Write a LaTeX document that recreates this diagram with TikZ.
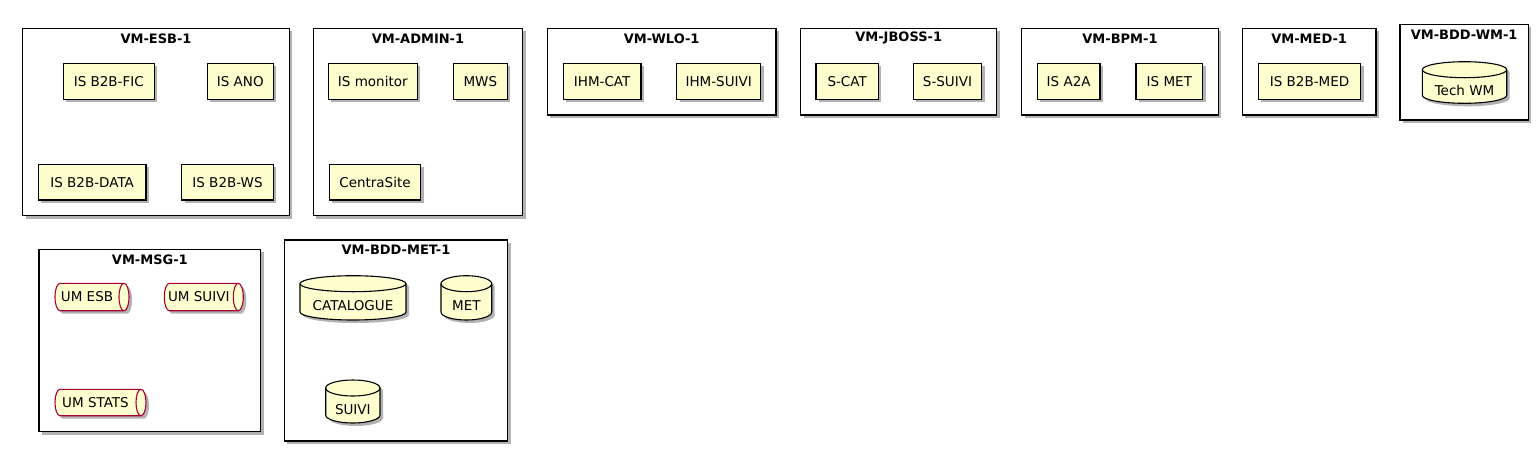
\documentclass[tikz,border=0pt]{standalone}
\usepackage{fontspec}
\setmainfont{DejaVu Sans}
\usetikzlibrary{shadows}
\definecolor{umlfill}{HTML}{FEFECE}
\definecolor{umlred}{HTML}{A80036}
\tikzset{
  shad/.style={drop shadow={shadow xshift=3pt, shadow yshift=-3pt, opacity=0.3, fill=black}},
  frame/.style={draw=black, line width=1.2pt, fill=white, shad, inner sep=0pt},
  frametitle/.style={font=\fontsize{13}{15}\selectfont\bfseries, inner sep=0pt},
  comp/.style={draw=black, line width=1.1pt, fill=umlfill, shad, inner sep=0pt,
    font=\fontsize{13.5}{16}\selectfont},
  dbshape/.style={draw=black, line width=1.1pt, fill=umlfill, shad},
  dbline/.style={draw=black, line width=1.1pt},
  qshape/.style={draw=umlred, line width=1.1pt, fill=umlfill, shad},
  qline/.style={draw=umlred, line width=1.1pt},
  lbl/.style={inner sep=0pt, font=\fontsize{13.5}{16}\selectfont}
}
% frame: name, l, t, r, b, title
\newcommand\uframe[6]{%
  \node[frame, minimum width={#4-#2}, minimum height={#5-#3}] (#1) at ({(#2+#4)/2},{(#3+#5)/2}) {};
  \node[frametitle] (#1-title) at ({(#2+#4)/2},{#3+10}) {#6};}
% component box
\newcommand\ubox[6]{%
  \node[comp, minimum width={#4-#2}, minimum height={#5-#3}] (#1) at ({(#2+#4)/2},{(#3+#5)/2}) {#6};}
% database
\newcommand\udb[6]{%
  \path[dbshape] (#2,#3+8) -- (#2,#5-8)
     arc[start angle=180, end angle=0, x radius={(#4-#2)/2}, y radius=8]
     -- (#4,#3+8)
     arc[start angle=0, end angle=-180, x radius={(#4-#2)/2}, y radius=8] -- cycle;
  \path[dbline] (#2,#3+8) arc[start angle=180, end angle=0, x radius={(#4-#2)/2}, y radius=8];
  \node[lbl] (#1) at ({(#2+#4)/2},{(#3+16+#5)/2}) {#6};}
% queue
\newcommand\uqueue[6]{%
  \path[qshape] (#2+5,#3) -- (#4-5,#3)
     arc[start angle=-90, end angle=90, x radius=5, y radius={(#5-#3)/2}]
     -- (#2+5,#5)
     arc[start angle=90, end angle=270, x radius=5, y radius={(#5-#3)/2}] -- cycle;
  \path[qline] (#4-5,#3) arc[start angle=-90, end angle=-270, x radius=5, y radius={(#5-#3)/2}];
  \node[lbl] (#1) at ({(#2+#4-10)/2},{(#3+#5)/2}) {#6};}
\begin{document}
\begin{tikzpicture}[x=1pt, y=-1pt]
\useasboundingbox (0,0) rectangle (1538,451);

% Row 1
\uframe{esb}{22.7}{28.3}{289.3}{215.5}{VM-ESB-1}
\ubox{fic}{63.3}{63.3}{154.3}{99.3}{IS B2B-FIC}
\ubox{ano}{207.3}{63.3}{273.3}{99.3}{IS ANO}
\ubox{data}{38.3}{164.3}{146}{200}{IS B2B-DATA}
\ubox{ws}{181.7}{164.3}{273.3}{200}{IS B2B-WS}

\uframe{admin}{313.3}{28.3}{522.7}{215.5}{VM-ADMIN-1}
\ubox{monitor}{328.3}{63.3}{417.3}{99.3}{IS monitor}
\ubox{mws}{453.3}{63.3}{507.3}{99.3}{MWS}
\ubox{centrasite}{329.3}{164.3}{420.7}{200}{CentraSite}

\uframe{wlo}{547.3}{28.3}{776}{115}{VM-WLO-1}
\ubox{ihmcat}{563.3}{63.3}{641}{99.3}{IHM-CAT}
\ubox{ihmsuivi}{676.7}{63.3}{760.7}{99.3}{IHM-SUIVI}

\uframe{jboss}{800.7}{28.3}{996.7}{115}{VM-JBOSS-1}
\ubox{scat}{816}{63.3}{878.3}{99.3}{S-CAT}
\ubox{ssuivi}{913.3}{63.3}{981.7}{99.3}{S-SUIVI}

\uframe{bpm}{1021.7}{28.3}{1218.3}{115}{VM-BPM-1}
\ubox{a2a}{1037.3}{63.3}{1100}{99.3}{IS A2A}
\ubox{ismet}{1136}{63.3}{1202.7}{99.3}{IS MET}

\uframe{med}{1242.3}{28.3}{1376}{115}{VM-MED-1}
\ubox{b2bmed}{1258.3}{63.3}{1360.7}{99.3}{IS B2B-MED}

\uframe{bddwm}{1400}{24.3}{1528.3}{120}{VM-BDD-WM-1}
\udb{techwm}{1422.3}{61.7}{1506.7}{103.3}{Tech WM}

% Row 2
\uframe{msg}{39}{249.3}{260.7}{431.7}{VM-MSG-1}
\uqueue{umesb}{55}{283.3}{129}{310.7}{UM ESB}
\uqueue{umsuivi}{164.3}{283.3}{243.3}{310.7}{UM SUIVI}
\uqueue{umstats}{55}{389.3}{146}{415.7}{UM STATS}

\uframe{bddmet}{284.3}{240}{507.7}{441}{VM-BDD-MET-1}
\udb{catalogue}{300}{275.7}{406}{320}{CATALOGUE}
\udb{met}{441}{275.7}{491.7}{320}{MET}
\udb{suivi}{325.7}{380}{380}{423}{SUIVI}
\end{tikzpicture}
\end{document}
